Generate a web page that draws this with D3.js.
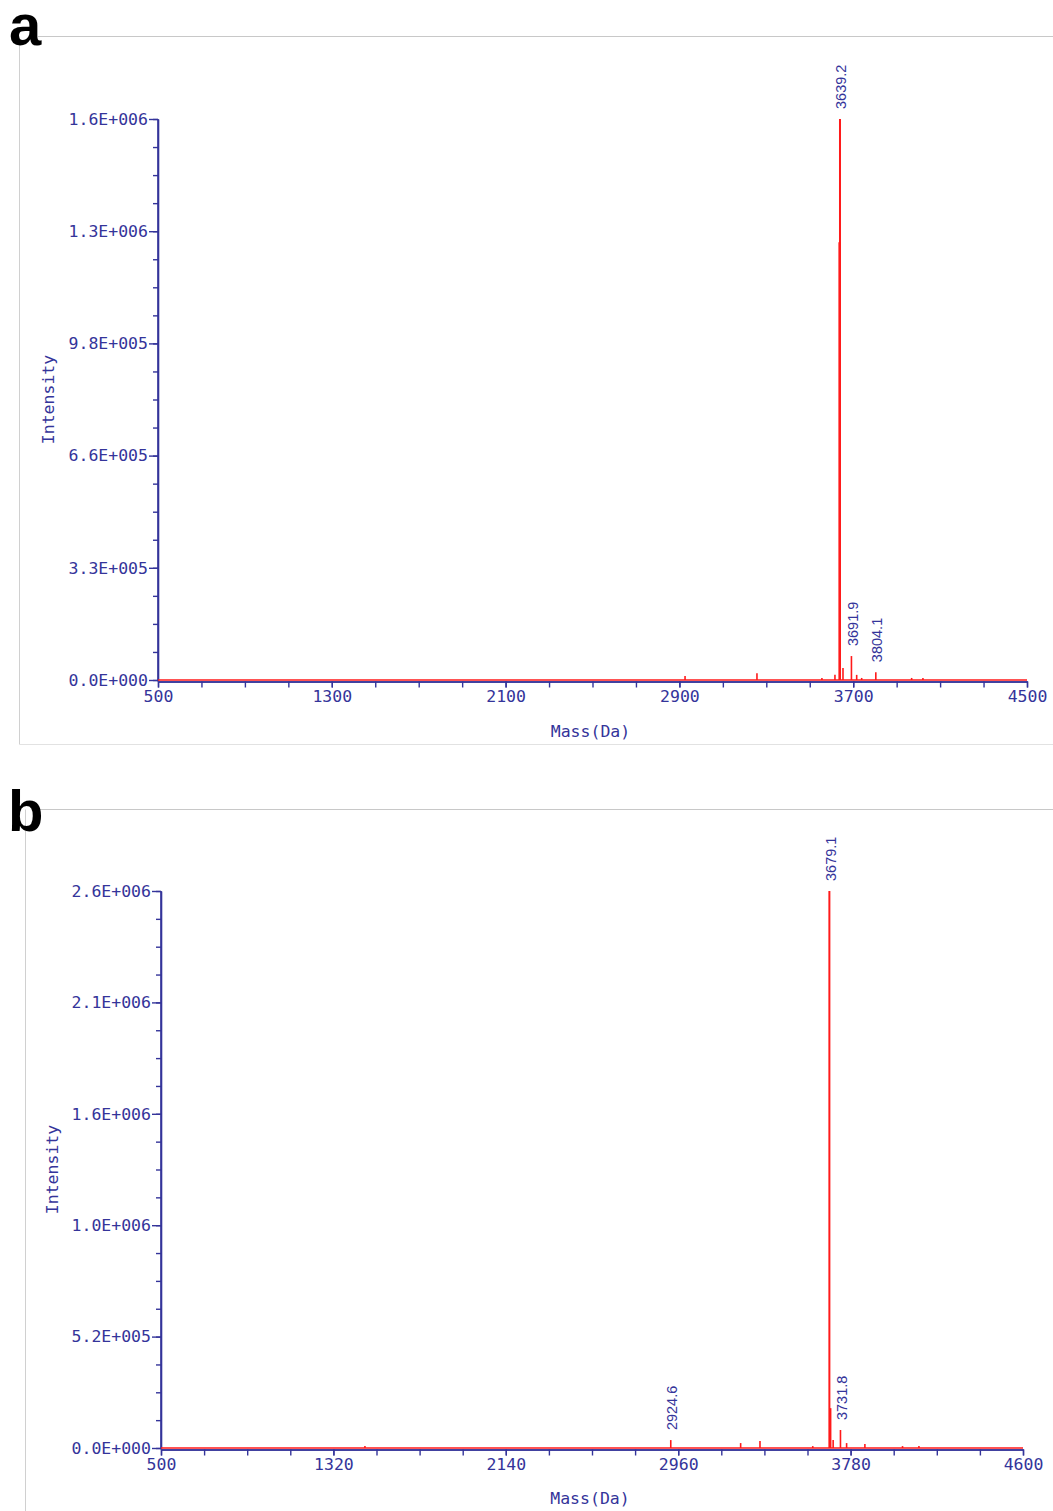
<!DOCTYPE html>
<html><head><meta charset="utf-8">
<script src="https://cdn.jsdelivr.net/npm/d3@7"></script>
<style>
body{margin:0;background:#fff;}
svg{display:block;}
</style></head>
<body>
<svg id="c" width="1053" height="1511"></svg>
<script>
// ---------- Panel a data ----------
const massA = [2926, 3257, 3556, 3616, 3636.5, 3639.2, 3653, 3691.9, 3716, 3739, 3804.1, 3969, 4021];
const intensityA = [12000, 20000, 6000, 15000, 1280000, 1640000, 35000, 70000, 15000, 6000, 23000, 6000, 6000];
const peakLabelsA = [3639.2, 3691.9, 3804.1];
const xTicksA = [500, 1300, 2100, 2900, 3700, 4500];
const xMinorStepA = 200;
const yTickValuesA = [0, 328000, 656000, 984000, 1312000, 1640000];
const yTickLabelsA = ["0.0E+000", "3.3E+005", "6.6E+005", "9.8E+005", "1.3E+006", "1.6E+006"];

// ---------- Panel b data ----------
const massB = [1470, 2924.6, 3257, 3349, 3600, 3679.1, 3685, 3697, 3731.8, 3761, 3848, 4027, 4105];
const intensityB = [9000, 37000, 23000, 33000, 9000, 2600000, 186000, 37000, 84000, 23000, 19000, 9000, 9000];
const peakLabelsB = [2924.6, 3679.1, 3731.8];
const xTicksB = [500, 1320, 2140, 2960, 3780, 4600];
const xMinorStepB = 205;
const yTickValuesB = [0, 520000, 1040000, 1560000, 2080000, 2600000];
const yTickLabelsB = ["0.0E+000", "5.2E+005", "1.0E+006", "1.6E+006", "2.1E+006", "2.6E+006"];

const xTitle = "Mass(Da)";
const yTitle = "Intensity";

const NAVY = "#34349a";
const RED = "#ff1a1a";
const MONO = "'DejaVu Sans Mono', monospace";

const svg = d3.select("#c");

function drawPanel(cfg) {
  const g = svg.append("g");
  // frame
  g.append("line").attr("x1", cfg.frameTopX).attr("x2", 1053).attr("y1", cfg.frameTop).attr("y2", cfg.frameTop)
    .attr("stroke", "#c8c8c8").attr("stroke-width", 1);
  g.append("line").attr("x1", cfg.frameLeft).attr("x2", cfg.frameLeft).attr("y1", cfg.frameTop).attr("y2", cfg.frameBottom)
    .attr("stroke", "#d0d0d0").attr("stroke-width", 1);
  if (cfg.frameBottom < 1511) {
    g.append("line").attr("x1", cfg.frameLeft).attr("x2", 1053).attr("y1", cfg.frameBottom).attr("y2", cfg.frameBottom)
      .attr("stroke", "#e2e2e2").attr("stroke-width", 1);
  }
  g.append("text").attr("x", cfg.letterX).attr("y", cfg.letterY).text(cfg.letter)
    .attr("font-family", "'Liberation Sans', Arial, sans-serif").attr("font-weight", "bold")
    .attr("font-size", 58).attr("fill", "#000");

  const x = d3.scaleLinear().domain([cfg.xTicks[0], cfg.xTicks[cfg.xTicks.length - 1]]).range([cfg.left, cfg.right]);
  const y = d3.scaleLinear().domain([0, cfg.yTickValues[cfg.yTickValues.length - 1]]).range([cfg.bottom, cfg.top]);

  // x minor ticks
  const minor = d3.range(cfg.xTicks[0], cfg.xTicks[cfg.xTicks.length - 1] + 1e-6, cfg.xMinorStep);
  const axisY = cfg.bottom + 1.5;
  const xa = g.append("g").attr("transform", `translate(0,${axisY})`)
    .call(d3.axisBottom(x).tickValues(minor).tickSize(6).tickSizeOuter(0).tickFormat(""));
  const xb = g.append("g").attr("transform", `translate(0,${axisY})`)
    .call(d3.axisBottom(x).tickValues(cfg.xTicks).tickSize(6).tickSizeOuter(0).tickPadding(3).tickFormat(d => d));
  // y axis
  const yMax = cfg.yTickValues[cfg.yTickValues.length - 1];
  const yMinor = d3.range(0, 21).map(i => yMax * i / 20);
  const ya = g.append("g").attr("transform", `translate(${cfg.left},0)`)
    .call(d3.axisLeft(y).tickValues(yMinor).tickSize(5).tickSizeOuter(0).tickFormat(""));
  const yb = g.append("g").attr("transform", `translate(${cfg.left},0)`)
    .call(d3.axisLeft(y).tickValues(cfg.yTickValues).tickSize(9).tickSizeOuter(0).tickPadding(1)
      .tickFormat((d, i) => cfg.yTickLabels[i]));
  [xa, xb, ya, yb].forEach(a => {
    a.select(".domain").attr("stroke", NAVY).attr("stroke-width", 1.6);
    a.selectAll(".tick line").attr("stroke", NAVY).attr("stroke-width", 1.4);
    a.selectAll("text").attr("fill", NAVY).attr("font-family", MONO).attr("font-size", 16.5);
  });
  // make y axis reach the x axis line
  ya.select(".domain").attr("d", `M0,${axisY}V${cfg.top}`);

  // spectrum baseline
  g.append("line").attr("x1", x(cfg.xTicks[0])).attr("x2", x(cfg.xTicks[cfg.xTicks.length - 1]))
    .attr("y1", y(0)).attr("y2", y(0)).attr("stroke", RED).attr("stroke-width", 1.6);
  // peaks
  const peaks = cfg.mass.map((m, i) => ({ m, v: cfg.intensity[i] }));
  g.append("g").selectAll("line").data(peaks).join("line")
    .attr("x1", d => x(d.m)).attr("x2", d => x(d.m))
    .attr("y1", y(0)).attr("y2", d => y(d.v))
    .attr("stroke", RED).attr("stroke-width", d => d.v > yMax * 0.5 ? 2 : 1.6);

  // peak labels
  g.append("g").selectAll("text").data(cfg.peakLabels).join("text")
    .attr("transform", d => {
      const v = cfg.intensity[cfg.mass.indexOf(d)];
      return `translate(${x(d) + 1},${y(v) - 10}) rotate(-90)`;
    })
    .attr("dy", "0.36em")
    .attr("font-family", "'Liberation Sans', Arial, sans-serif").attr("font-size", 14.5)
    .attr("fill", NAVY).text(d => d.toFixed(1));

  // axis titles
  g.append("text").attr("x", (cfg.left + cfg.right) / 2 - 2).attr("y", cfg.xTitleY)
    .attr("text-anchor", "middle").attr("font-family", MONO).attr("font-size", 16.5).attr("fill", NAVY).text(xTitle);
  g.append("text").attr("transform", `translate(${cfg.yTitleX},${(cfg.top + cfg.bottom) / 2}) rotate(-90)`)
    .attr("text-anchor", "middle").attr("font-family", MONO).attr("font-size", 16.5).attr("fill", NAVY).text(yTitle);
}

drawPanel({
  mass: massA, intensity: intensityA, peakLabels: peakLabelsA,
  xTicks: xTicksA, xMinorStep: xMinorStepA, yTickValues: yTickValuesA, yTickLabels: yTickLabelsA,
  left: 158, right: 1027, top: 119, bottom: 680,
  xTitleY: 737, yTitleX: 54,
  frameTop: 36.5, frameTopX: 38, frameLeft: 19.5, frameBottom: 744.5,
  letter: "a", letterX: 9, letterY: 45
});
drawPanel({
  mass: massB, intensity: intensityB, peakLabels: peakLabelsB,
  xTicks: xTicksB, xMinorStep: xMinorStepB, yTickValues: yTickValuesB, yTickLabels: yTickLabelsB,
  left: 161, right: 1023, top: 891, bottom: 1448,
  xTitleY: 1504, yTitleX: 58,
  frameTop: 809.5, frameTopX: 40, frameLeft: 25.5, frameBottom: 1511,
  letter: "b", letterX: 8, letterY: 831
});
</script>
</body></html>
